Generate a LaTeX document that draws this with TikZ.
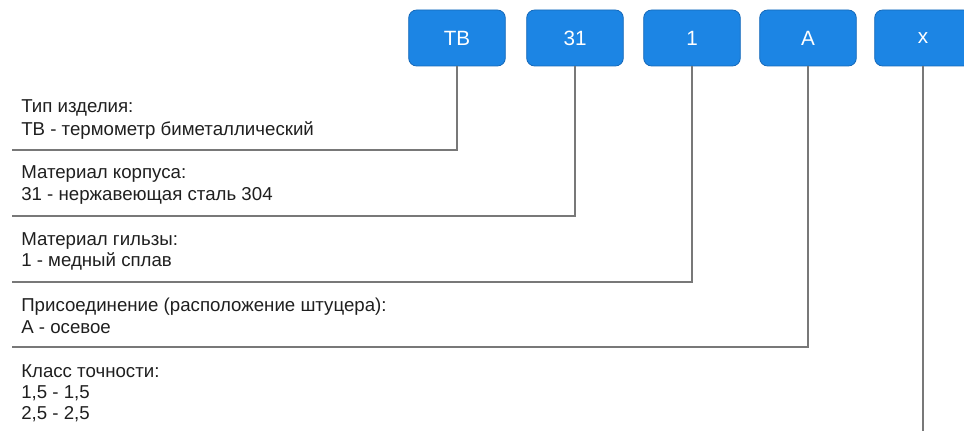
\documentclass[tikz,border=0pt]{standalone}
\usepackage{fontspec}
\setmainfont{Liberation Sans}
\definecolor{boxblue}{RGB}{28,133,228}
\definecolor{boxedge}{RGB}{22,105,185}
\definecolor{linegray}{RGB}{120,120,120}
\begin{document}
\begin{tikzpicture}[x=0.75pt,y=-0.75pt,
  codebox/.style={draw=boxedge,line width=0.6pt,fill=boxblue,rounded corners=6pt,
    minimum width=72.5pt,minimum height=42pt,inner sep=0pt,text=white,
    font=\fontsize{15.5}{18}\selectfont},
  desc/.style={anchor=base west,inner sep=0pt,text=black!88,
    font=\fontsize{14}{16}\selectfont},
  conn/.style={draw=linegray,line width=1.1pt}]
\useasboundingbox (0,0) rectangle (964,431);
\node[codebox] (b1) at (457,38) {ТВ};
\node[codebox] (b2) at (575,38) {31};
\node[codebox] (b3) at (692,38) {1};
\node[codebox] (b4) at (808,38) {А};
\node[codebox] (b5) at (923,38) {х};
\coordinate (l1) at (12,150);
\coordinate (l2) at (12,216);
\coordinate (l3) at (12,282);
\coordinate (l4) at (12,347);
\coordinate (l5) at (923,431);
\node[desc] (t1a) at (21,113) {Тип изделия:};
\node[desc] (t1b) at (21,136) {ТВ - термометр биметаллический};
\node[desc] (t2a) at (21,179) {Материал корпуса:};
\node[desc] (t2b) at (21,201) {31 - нержавеющая сталь 304};
\node[desc] (t3a) at (21,245) {Материал гильзы:};
\node[desc] (t3b) at (21,267) {1 - медный сплав};
\node[desc] (t4a) at (21,311) {Присоединение (расположение штуцера):};
\node[desc] (t4b) at (21,333) {А - осевое};
\node[desc] (t5a) at (21,377) {Класс точности:};
\node[desc] (t5b) at (21,398) {1,5 - 1,5};
\node[desc] (t5c) at (21,419) {2,5 - 2,5};
\draw[conn] (b1.south) |- (l1);
\draw[conn] (b2.south) |- (l2);
\draw[conn] (b3.south) |- (l3);
\draw[conn] (b4.south) |- (l4);
\draw[conn] (b5.south) -- (l5);
\end{tikzpicture}
\end{document}
